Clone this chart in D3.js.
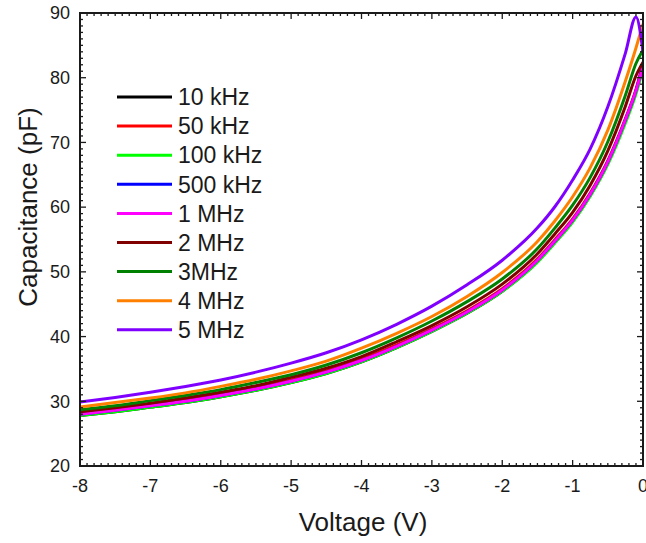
<!DOCTYPE html>
<html>
<head>
<meta charset="utf-8">
<script src="https://cdn.jsdelivr.net/npm/d3@7"></script>
<style>
  body { margin: 0; background: #fff; }
  text { font-family: Arial, "Liberation Sans", sans-serif; fill: #1a1a1a; }
</style>
</head>
<body>
<svg class="chart"></svg>
<script>
var width = 646,
    height = 543;
var margin = {left: 80, right: 3, top: 13, bottom: 77};

// bias voltage (V), shared by every series
var voltage = [-8, -7.5, -7, -6.5, -6, -5.5, -5, -4.5, -4, -3.5, -3, -2.5, -2, -1.5, -1.25, -1, -0.75, -0.5, -0.25, -0.1, 0];

// capacitance (pF) per frequency
var c10k  = [27.8, 28.4, 29.1, 29.8, 30.7, 31.7, 32.9, 34.3, 36.1, 38.3, 40.8, 43.6, 47.0, 51.6, 54.6, 57.8, 61.8, 66.8, 73.3, 77.8, 81.6];
var c50k  = [28.2, 28.8, 29.5, 30.2, 31.1, 32.1, 33.3, 34.7, 36.5, 38.7, 41.2, 44.0, 47.4, 52.0, 55.0, 58.2, 62.2, 67.2, 73.7, 78.2, 82.2];
var c100k = [27.8, 28.4, 29.1, 29.8, 30.7, 31.7, 32.9, 34.3, 36.1, 38.3, 40.8, 43.6, 47.0, 51.5, 54.5, 57.7, 61.7, 66.6, 73.0, 77.5, 81.4];
var c500k = [28.0, 28.6, 29.3, 30.0, 30.9, 31.9, 33.1, 34.5, 36.3, 38.5, 41.0, 43.8, 47.2, 51.8, 54.8, 58.0, 62.0, 67.0, 73.5, 78.0, 82.0];
var c1M   = [28.0, 28.6, 29.3, 30.0, 30.9, 31.9, 33.1, 34.5, 36.3, 38.5, 41.0, 43.8, 47.2, 51.8, 54.8, 58.0, 62.0, 67.0, 73.5, 78.0, 81.8];
var c2M   = [28.4, 29.0, 29.7, 30.5, 31.4, 32.4, 33.7, 35.1, 36.9, 39.2, 41.7, 44.6, 48.1, 52.8, 55.9, 59.2, 63.4, 68.7, 75.6, 80.3, 82.4];
var c3M   = [28.7, 29.3, 30.1, 30.9, 31.8, 32.9, 34.1, 35.6, 37.5, 39.8, 42.4, 45.4, 48.9, 53.6, 56.8, 60.3, 64.6, 70.1, 77.3, 82.2, 84.3];
var c4M   = [29.1, 29.8, 30.5, 31.3, 32.3, 33.4, 34.7, 36.2, 38.2, 40.5, 43.1, 46.2, 49.9, 54.7, 57.9, 61.6, 66.1, 71.9, 79.5, 84.6, 88.3];
var c5M   = [29.9, 30.6, 31.4, 32.3, 33.3, 34.5, 35.9, 37.5, 39.5, 41.9, 44.7, 48.0, 51.8, 56.8, 60.1, 64.2, 69.0, 75.5, 83.8, 89.4, 84.0];

var names  = ["10 kHz", "50 kHz", "100 kHz", "500 kHz", "1 MHz", "2 MHz", "3MHz", "4 MHz", "5 MHz"];
var colors = ["#000000", "#ff0000", "#00ff00", "#0000ff", "#ff00ff", "#800000", "#008000", "#ff8000", "#8000ff"];
var values = [c10k, c50k, c100k, c500k, c1M, c2M, c3M, c4M, c5M];

var xTicks = [-8, -7, -6, -5, -4, -3, -2, -1, 0];
var yTicks = [20, 30, 40, 50, 60, 70, 80, 90];

var x0 = margin.left, x1 = width - margin.right;
var y0 = height - margin.bottom, y1 = margin.top;

var x = d3.scaleLinear().domain([-8, 0]).range([x0, x1]);
var y = d3.scaleLinear().domain([20, 90]).range([y0, y1]);

var chart = d3.select(".chart")
    .attr("width", width)
    .attr("height", height);

chart.append("defs").append("clipPath").attr("id", "plot")
  .append("rect")
    .attr("x", x0).attr("y", y1)
    .attr("width", x1 - x0).attr("height", y0 - y1);

// curves
var line = d3.line()
    .x(function(d) { return x(d[0]); })
    .y(function(d) { return y(d[1]); })
    .curve(d3.curveMonotoneX);

values.forEach(function(v, i) {
  chart.append("path")
    .datum(voltage.map(function(t, j) { return [t, v[j]]; }))
    .attr("clip-path", "url(#plot)")
    .attr("fill", "none")
    .attr("stroke", colors[i])
    .attr("stroke-width", 3)
    .attr("d", line);
});

// ticks on all four sides, pointing in
var xMinor = d3.range(-8, 0.001, 0.1);
var yMinor = d3.range(20, 90.001, 1);

function tickLines(list, major, fn) {
  list.forEach(function(t) {
    var isMajor = major.some(function(m) { return Math.abs(m - t) < 1e-6; });
    fn(t, isMajor ? 6 : 3);
  });
}

var ticks = chart.append("g").attr("stroke", "#1a1a1a").attr("stroke-width", 1.3);

tickLines(xMinor, xTicks, function(t, len) {
  ticks.append("line").attr("x1", x(t)).attr("x2", x(t)).attr("y1", y0).attr("y2", y0 - len);
  ticks.append("line").attr("x1", x(t)).attr("x2", x(t)).attr("y1", y1).attr("y2", y1 + len);
});
tickLines(yMinor, yTicks, function(t, len) {
  ticks.append("line").attr("y1", y(t)).attr("y2", y(t)).attr("x1", x0).attr("x2", x0 + len);
  ticks.append("line").attr("y1", y(t)).attr("y2", y(t)).attr("x1", x1).attr("x2", x1 - len);
});

chart.append("rect")
    .attr("x", x0).attr("y", y1)
    .attr("width", x1 - x0).attr("height", y0 - y1)
    .attr("fill", "none")
    .attr("stroke", "#1a1a1a")
    .attr("stroke-width", 2);

// tick labels
chart.selectAll(".xlab").data(xTicks).enter().append("text")
    .attr("class", "xlab")
    .attr("x", function(d) { return x(d); })
    .attr("y", y0 + 26)
    .attr("text-anchor", "middle")
    .attr("font-size", 18)
    .text(function(d) { return d; });

chart.selectAll(".ylab").data(yTicks).enter().append("text")
    .attr("class", "ylab")
    .attr("x", x0 - 10)
    .attr("y", function(d) { return y(d); })
    .attr("dy", ".35em")
    .attr("text-anchor", "end")
    .attr("font-size", 18)
    .text(function(d) { return d; });

// axis titles
chart.append("text")
    .attr("x", 363)
    .attr("y", 531)
    .attr("text-anchor", "middle")
    .attr("font-size", 26)
    .text("Voltage (V)");

chart.append("text")
    .attr("transform", "translate(37,207) rotate(-90)")
    .attr("text-anchor", "middle")
    .attr("font-size", 26)
    .text("Capacitance (pF)");

// legend
var legend = chart.selectAll(".legend").data(names).enter().append("g")
    .attr("class", "legend")
    .attr("transform", function(d, i) { return "translate(117," + (97 + i * 29.1) + ")"; });

legend.append("line")
    .attr("x1", 0).attr("x2", 55)
    .attr("stroke", function(d, i) { return colors[i]; })
    .attr("stroke-width", 3);

legend.append("text")
    .attr("x", 61)
    .attr("dy", ".36em")
    .attr("font-size", 23)
    .text(function(d) { return d; });
</script>
</body>
</html>
